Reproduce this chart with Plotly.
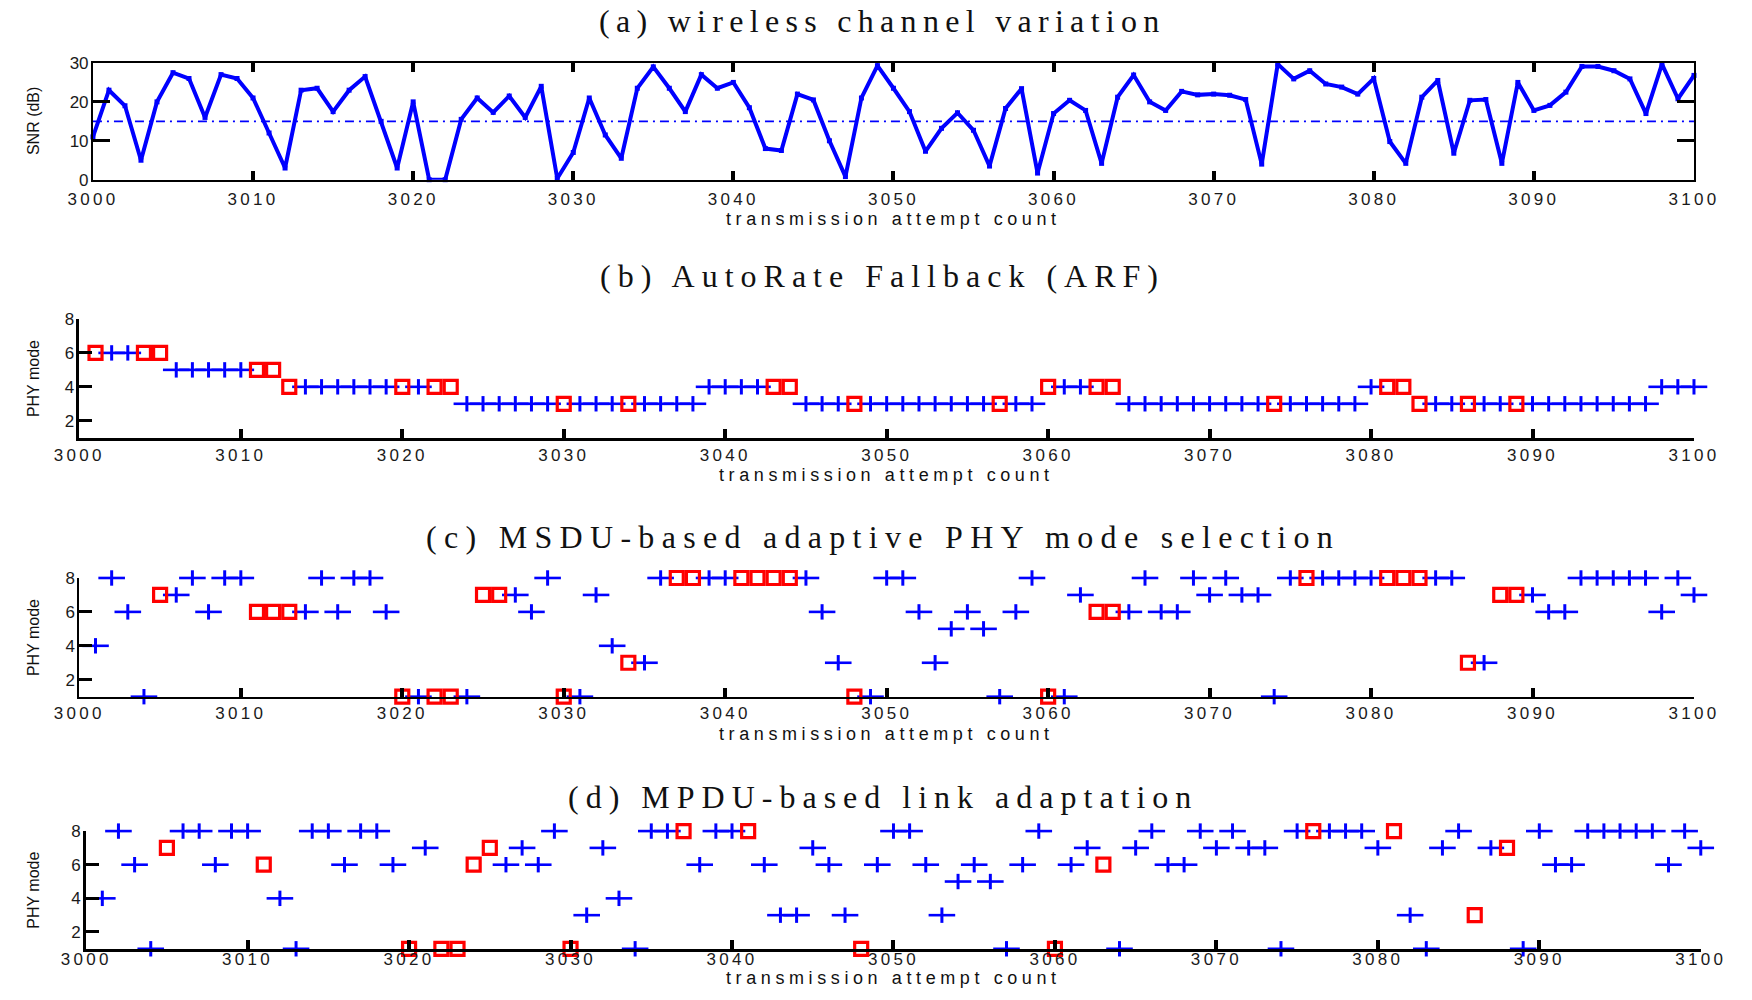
import plotly.graph_objects as go

W, H = 1752, 1000

# ---------------- data ----------------
attempts = list(range(3000, 3101))
snr_db = [11, 23, 19, 5, 20, 27.5, 26, 16, 27, 26,
          21, 12, 3, 23, 23.5, 17.5, 23, 26.5, 15, 3,
          20, 0, 0, 15.5, 21, 17.3, 21.5, 16, 24, 0.3,
          7, 21, 11.5, 5.5, 23.5, 29, 23.5, 17.5, 27, 23.5,
          25, 18.5, 8, 7.5, 22, 20.5, 10, 0.8, 21, 29.3,
          23.5, 17.5, 7.3, 13.2, 17.2, 12.7, 3.5, 18.3, 23.4, 1.7,
          17, 20.4, 17.8, 4.2, 21.2, 26.9, 20, 17.8, 22.7, 21.8,
          22, 21.7, 20.6, 4, 29.7, 25.9, 28, 24.6, 23.8, 22,
          26, 9.8, 4.2, 21.2, 25.5, 6.8, 20.4, 20.6, 4.2, 25,
          17.8, 19.1, 22.5, 29.1, 29.1, 28, 25.9, 17, 29.7, 20.8,
          26.8]
snr_threshold_db = 15

mode_attempts = list(range(3001, 3101))

arf_mode = [6, 6, 6, 6, 6, 5, 5, 5, 5, 5,
            5, 5, 4, 4, 4, 4, 4, 4, 4, 4,
            4, 4, 4, 3, 3, 3, 3, 3, 3, 3,
            3, 3, 3, 3, 3, 3, 3, 3, 4, 4,
            4, 4, 4, 4, 3, 3, 3, 3, 3, 3,
            3, 3, 3, 3, 3, 3, 3, 3, 3, 4,
            4, 4, 4, 4, 3, 3, 3, 3, 3, 3,
            3, 3, 3, 3, 3, 3, 3, 3, 3, 4,
            4, 4, 3, 3, 3, 3, 3, 3, 3, 3,
            3, 3, 3, 3, 3, 3, 3, 4, 4, 4]
arf_failed = [3001, 3004, 3005, 3011, 3012, 3013, 3020, 3022, 3023, 3030,
              3034, 3043, 3044, 3048, 3057, 3060, 3063, 3064, 3074, 3081,
              3082, 3083, 3086, 3089]

msdu_mode = [4, 8, 6, 1, 7, 7, 8, 6, 8, 8,
             6, 6, 6, 6, 8, 6, 8, 8, 6, 1,
             1, 1, 1, 1, 7, 7, 7, 6, 8, 1,
             1, 7, 4, 3, 3, 8, 8, 8, 8, 8,
             8, 8, 8, 8, 8, 6, 3, 1, 1, 8,
             8, 6, 3, 5, 6, 5, 1, 6, 8, 1,
             1, 7, 6, 6, 6, 8, 6, 6, 8, 7,
             8, 7, 7, 1, 8, 8, 8, 8, 8, 8,
             8, 8, 8, 8, 8, 3, 3, 7, 7, 7,
             6, 6, 8, 8, 8, 8, 8, 6, 8, 7]
msdu_failed = [3005, 3011, 3012, 3013, 3020, 3022, 3023, 3025, 3026, 3030,
               3034, 3037, 3038, 3041, 3042, 3043, 3044, 3048, 3060, 3063,
               3064, 3076, 3081, 3082, 3083, 3086, 3088, 3089]

mpdu_mode = [4, 8, 6, 1, 7, 8, 8, 6, 8, 8,
             6, 4, 1, 8, 8, 6, 8, 8, 6, 1,
             7, 1, 1, 6, 7, 6, 7, 6, 8, 1,
             3, 7, 4, 1, 8, 8, 8, 6, 8, 8,
             8, 6, 3, 3, 7, 6, 3, 1, 6, 8,
             8, 6, 3, 5, 6, 5, 1, 6, 8, 1,
             6, 7, 6, 1, 7, 8, 6, 6, 8, 7,
             8, 7, 7, 1, 8, 8, 8, 8, 8, 7,
             8, 3, 1, 7, 8, 3, 7, 7, 1, 8,
             6, 6, 8, 8, 8, 8, 8, 6, 8, 7]
mpdu_failed = [3005, 3011, 3020, 3022, 3023, 3024, 3025, 3030, 3037, 3041,
               3048, 3060, 3063, 3076, 3081, 3086, 3088]

x_ticks = list(range(3000, 3101, 10))
snr_ticks = [0, 10, 20, 30]
mode_ticks = [2, 4, 6, 8]

panel_titles = ["(a) wireless channel variation",
                "(b) AutoRate Fallback (ARF)",
                "(c) MSDU-based adaptive PHY mode selection",
                "(d) MPDU-based link adaptation"]
x_title = "transmission attempt count"
snr_title = "SNR (dB)"
mode_title = "PHY mode"

# ---------------- layout geometry (pixels) ----------------
boxes = [(69, 1719, 55, 174),
         (55, 1719, 316, 437),
         (55, 1719, 580, 701),
         (62, 1726, 838, 958)]
title_y = [12, 272, 538, 803]
title_spacing = [6.3, 7, 7.3, 7]
xtitle_y = [214, 475, 739, None]   # last one is pinned to the page bottom
label_standoff = [3, 0, 0, -7]
ytitle_x = 8

BLUE = "#0000ff"
RED = "#ff0000"
TICK_FONT = dict(family="Liberation Sans", size=17, color="#1a1a1a")


def spaced(s, px):
    return f"<span style='letter-spacing:{px}px'>{s}</span>"


fig = go.Figure()

fig.add_trace(go.Scatter(x=[attempts[0], attempts[-1]], y=[snr_threshold_db, snr_threshold_db],
                         mode="lines", line=dict(color=BLUE, width=1.6, dash="9px,5px,2px,5px"),
                         xaxis="x", yaxis="y", showlegend=False, hoverinfo="skip"))
fig.add_trace(go.Scatter(x=attempts, y=snr_db, mode="lines+markers",
                         line=dict(color=BLUE, width=4),
                         marker=dict(color=BLUE, size=5, symbol="square"),
                         xaxis="x", yaxis="y", showlegend=False, cliponaxis=False))

mode_sets = [(arf_mode, arf_failed), (msdu_mode, msdu_failed), (mpdu_mode, mpdu_failed)]
for i, (modes, failed) in enumerate(mode_sets, start=2):
    ok_x = [t for t, m in zip(mode_attempts, modes) if t not in failed]
    ok_y = [m for t, m in zip(mode_attempts, modes) if t not in failed]
    bad_x = [t for t, m in zip(mode_attempts, modes) if t in failed]
    bad_y = [m for t, m in zip(mode_attempts, modes) if t in failed]
    xa, ya = f"x{i}", f"y{i}"
    fig.add_trace(go.Scatter(x=ok_x, y=ok_y, mode="markers",
                             marker=dict(symbol="line-ew", size=19,
                                         line=dict(color=BLUE, width=2.6)),
                             xaxis=xa, yaxis=ya, showlegend=False, cliponaxis=False))
    fig.add_trace(go.Scatter(x=ok_x, y=ok_y, mode="markers",
                             marker=dict(symbol="line-ns", size=11,
                                         line=dict(color=BLUE, width=3)),
                             xaxis=xa, yaxis=ya, showlegend=False, cliponaxis=False))
    fig.add_trace(go.Scatter(x=bad_x, y=bad_y, mode="markers",
                             marker=dict(symbol="square-open", size=13, color=RED,
                                         line=dict(color=RED, width=3.2)),
                             xaxis=xa, yaxis=ya, showlegend=False, cliponaxis=False))

layout = dict(width=W, height=H, margin=dict(l=0, r=0, t=0, b=0),
              paper_bgcolor="white", plot_bgcolor="white", showlegend=False)

line_widths = [2, 2.5, 2, 3]
for i, (l, r, t, b) in enumerate(boxes):
    suffix = "" if i == 0 else str(i + 1)
    xdom = [l / W, r / W]
    ydom = [1 - b / H, 1 - t / H]
    mirror = "ticks" if i == 0 else False
    layout["xaxis" + suffix] = dict(
        domain=xdom, range=[3000, 3100], anchor="y" + suffix,
        tickmode="array", tickvals=x_ticks,
        ticktext=[spaced(v, 3.3) for v in x_ticks],
        ticks="inside", ticklen=9, tickwidth=3.5, tickcolor="black",
        showline=True, linecolor="black", linewidth=line_widths[i], mirror=mirror,
        showgrid=False, zeroline=False, tickfont=TICK_FONT,
        ticklabelstandoff=label_standoff[i], fixedrange=True)
    if i == 0:
        yr, yt, ylen = [0, 30], snr_ticks, 17
    else:
        yr, yt, ylen = [1, 8], mode_ticks, 13
    layout["yaxis" + suffix] = dict(
        domain=ydom, range=yr, anchor="x" + suffix,
        tickmode="array", tickvals=yt,
        ticks="inside", ticklen=ylen, tickwidth=3, tickcolor="black",
        showline=True, linecolor="black", linewidth=line_widths[i], mirror=mirror,
        showgrid=False, zeroline=False, tickfont=TICK_FONT, ticklabelstandoff=-1,
        fixedrange=True)

annotations = []
for i, (l, r, t, b) in enumerate(boxes):
    cx = (l + r) / 2
    annotations.append(dict(text=spaced(panel_titles[i], title_spacing[i]),
                            x=883 / W, y=1 - title_y[i] / H,
                            xref="paper", yref="paper", showarrow=False,
                            xanchor="center", yanchor="middle",
                            font=dict(family="Liberation Serif", size=32, color="#111")))
    if xtitle_y[i] is None:
        xt_pos, xt_anchor = 0.0, "bottom"
    else:
        xt_pos, xt_anchor = 1 - xtitle_y[i] / H, "middle"
    annotations.append(dict(text=spaced(x_title, 4.6), x=cx / W, y=xt_pos,
                            xref="paper", yref="paper", showarrow=False,
                            xanchor="center", yanchor=xt_anchor,
                            font=dict(family="Liberation Sans", size=18, color="#111")))
    annotations.append(dict(text=snr_title if i == 0 else mode_title,
                            x=ytitle_x / W, y=1 - (t + b) / 2 / H,
                            xref="paper", yref="paper", showarrow=False, textangle=-90,
                            xanchor="center", yanchor="middle",
                            font=dict(family="Liberation Sans", size=16, color="#111")))
layout["annotations"] = annotations

fig.update_layout(**layout)
fig.write_html("out.html")
